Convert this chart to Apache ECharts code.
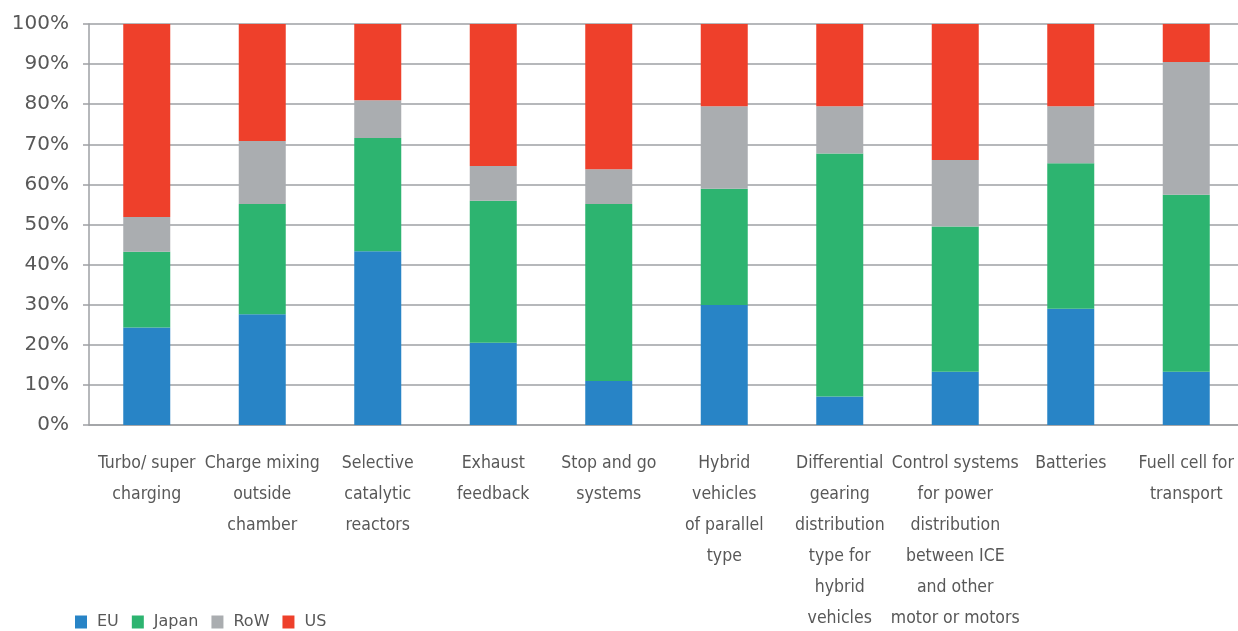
<!DOCTYPE html>
<html>
<head>
<meta charset="utf-8">
<script src="https://cdn.jsdelivr.net/npm/echarts@6/dist/echarts.min.js"></script>
<style>
  html, body { margin: 0; padding: 0; background: #fff; overflow: hidden; }
  #chart { width: 1238px; height: 631px; }
</style>
</head>
<body>
<div id="chart"></div>
<script>
const categories = [
  'Turbo/ super\ncharging',
  'Charge mixing\noutside\nchamber',
  'Selective\ncatalytic\nreactors',
  'Exhaust\nfeedback',
  'Stop and go\nsystems',
  'Hybrid\nvehicles\nof parallel\ntype',
  'Differential\ngearing\ndistribution\ntype for\nhybrid\nvehicles',
  'Control systems\nfor power\ndistribution\nbetween ICE\nand other\nmotor or motors',
  'Batteries',
  'Fuell cell for\ntransport'
];
const eu    = [24.3, 27.6, 43.3, 20.5, 11.0, 29.9,  7.1, 13.3, 29.0, 13.3];
const japan = [18.9, 27.5, 28.3, 35.4, 44.1, 29.0, 60.6, 36.2, 36.3, 44.1];
const row   = [ 8.7, 15.7,  9.4,  8.7,  8.7, 20.6, 11.8, 16.6, 14.2, 33.1];
const us    = [48.1, 29.2, 19.0, 35.4, 36.2, 20.5, 20.5, 33.9, 20.5,  9.5];
const yTicks = { min: 0, max: 100, interval: 10 };

const gridColor = '#9ea0a4';
const textColor = '#585858';

var myChart = echarts.init(document.getElementById('chart'));

function seg(name, data, color) {
  return {
    name: name,
    type: 'bar',
    stack: 'total',
    barWidth: 47,
    itemStyle: { color: color },
    data: data
  };
}

var option = {
  animation: false,
  legend: {
    left: 75,
    top: 614,
    padding: 0,
    itemWidth: 12,
    itemHeight: 13,
    itemGap: 13,
    icon: 'rect',
    textStyle: {
      fontFamily: '"DejaVu Sans", sans-serif',
      fontSize: 16,
      color: textColor,
      padding: [0, 0, 0, 5]
    },
    data: ['EU', 'Japan', 'RoW', 'US']
  },
  grid: {
    left: 89,
    right: -6,
    top: 24,
    bottom: 206,
    outerBoundsMode: 'none'
  },
  xAxis: {
    type: 'category',
    data: categories,
    axisLine: { show: true, lineStyle: { color: gridColor, width: 1.5 } },
    axisTick: { show: false },
    axisLabel: {
      interval: 0,
      margin: 23,
      fontFamily: '"Liberation Sans Narrow", "DejaVu Sans Condensed", sans-serif',
      fontSize: 17.5,
      lineHeight: 31,
      color: textColor,
      align: 'center'
    }
  },
  yAxis: {
    type: 'value',
    min: yTicks.min,
    max: yTicks.max,
    interval: yTicks.interval,
    axisLine: { show: true, lineStyle: { color: gridColor, width: 1.5 } },
    axisTick: { show: true, length: 6, lineStyle: { color: gridColor, width: 1.5 } },
    splitLine: { show: true, lineStyle: { color: gridColor, width: 1.5 } },
    axisLabel: {
      margin: 20,
      formatter: '{value}%',
      fontFamily: '"DejaVu Sans", sans-serif',
      fontSize: 20,
      color: textColor
    }
  },
  series: [
    seg('EU', eu, '#2884c6'),
    seg('Japan', japan, '#2db470'),
    seg('RoW', row, '#aaadb0'),
    seg('US', us, '#ee402b')
  ]
};

option && myChart.setOption(option);
</script>
</body>
</html>
